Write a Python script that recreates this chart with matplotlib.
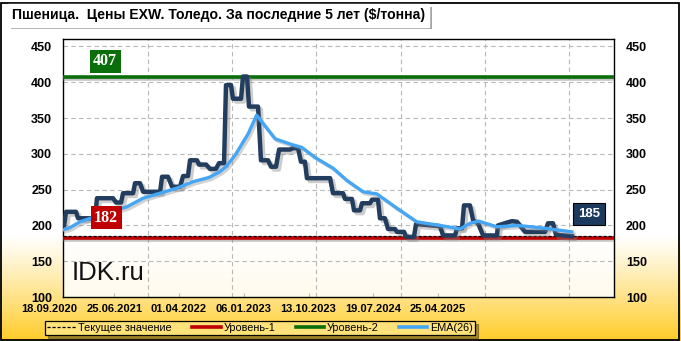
import matplotlib
matplotlib.use("Agg")
import matplotlib.pyplot as plt
import matplotlib.patheffects as pe
import matplotlib.transforms as mtransforms
import numpy as np

# неделя от 18.09.2020 и цена, $/т
weeks = [9.0, 10.2, 16.4, 17.6, 28.1, 29.3, 39.2, 41.1, 44.2, 45.4, 51.6, 52.8,
         55.9, 57.8, 68.3, 69.5, 73.2, 75.7, 80.6, 82.5, 85.5, 86.8, 91.1, 92.3,
         96.7, 99.1, 102.8, 104.7, 107.8, 109.0, 112.1, 113.3, 118.3, 119.5, 122.0,
         123.2, 128.8, 130.6, 135.0, 136.8, 139.9, 141.8, 148.6, 150.4, 153.5,
         155.3, 157.8, 159.0, 168.3, 173.3, 175.1, 181.3, 182.5, 186.8, 188.1,
         191.8, 193.0, 198.0, 199.2, 202.9, 204.1, 207.2, 209.1, 213.4, 214.6,
         219.0, 220.2, 225.1, 226.4, 241.2, 243.1, 250.5, 251.7, 254.8, 256.0,
         259.7, 261.7, 264.7, 267.8, 276.4, 277.0, 282.6, 285.7, 288.8, 293.7,
         306.1, 307.9, 311.0, 312.8, 322.7]
price = [200, 219, 219, 210, 210, 238, 238, 232, 232, 245, 245, 259,
         259, 247, 247, 268, 268, 254, 254, 269, 269, 291, 291, 285,
         285, 279, 279, 287, 287, 396, 396, 377, 377, 408, 408,
         366, 366, 291, 291, 282, 282, 306, 306, 308, 308,
         289, 289, 266, 266, 266, 245, 245, 237, 237, 221,
         221, 231, 231, 236, 236, 210, 210, 195, 195, 191,
         191, 184, 184, 202, 199, 186, 186, 196, 196, 228,
         228, 207, 203, 186, 186, 200, 204, 206, 205, 191,
         191, 203, 203, 187, 185]

ema_weeks = [8.6, 12.7, 18.8, 29.3, 47.8, 57.8, 68.3, 78.6, 88.6, 98.5, 105.2,
             109.0, 114.6, 122.7, 127.9, 139.3, 149.6, 155.8, 164.0, 175.1, 183.6,
             193.7, 202.2, 214.6, 226.9, 241.2, 253.6, 259.7, 265.1, 276.4,
             289.1, 306.1, 322.7]
ema = [194, 197, 205, 213, 226, 238, 245, 252, 261, 267, 275,
       282, 298, 328, 354, 321, 313, 309, 295, 280, 263,
       247, 244, 224, 205, 200, 195, 203, 206, 198,
       200, 196, 191]

current = 185
level1 = 182
level2 = 407
y_ticks = [100, 150, 200, 250, 300, 350, 400, 450]
date_labels = ["18.09.2020", "25.06.2021", "01.04.2022", "06.01.2023",
               "13.10.2023", "19.07.2024", "25.04.2025"]
label_weeks = [0, 40, 80, 120, 160, 200, 240]

W, H = 681, 341
fig = plt.figure(figsize=(W / 100, H / 100), dpi=100)

# фон с градиентом
bg = fig.add_axes([0, 0, 1, 1], zorder=-10)
t = np.linspace(0, 1, 300)
c_top = np.array([1.0, 1.0, 1.0])
c_bot = np.array([1.0, 0.80, 0.16])
k = np.clip((t - 0.69) / 0.31, 0, 1) ** 1.1
grad = c_top[None, :] * (1 - k[:, None]) + c_bot[None, :] * k[:, None]
bg.imshow(grad[:, None, :], aspect="auto", extent=[0, 1, 0, 1], origin="upper")
bg.set_xlim(0, 1)
bg.set_ylim(0, 1)
bg.axis("off")
bg.add_patch(plt.Rectangle((0.002, 0.002), 0.995, 0.99, fill=False, ec="black", lw=1.3))

ax = fig.add_axes([63.3 / W, 1 - 297 / H, (613.7 - 63.3) / W, (297 - 39.3) / H])
ax.set_facecolor((1, 1, 1, 0.85))
ax.set_xlim(8.5, 348.5)
ax.set_ylim(100, 460)

ax.set_yticks(y_ticks)
ax.set_yticklabels([])
ax.tick_params(axis="y", right=False, left=False)
ytrans = mtransforms.blended_transform_factory(fig.transFigure, ax.transData)
for v in y_ticks:
    ax.text(52 / W, v, str(v), transform=ytrans, ha="right", va="center_baseline", fontsize=9,
            fontweight="bold", family="Liberation Sans", clip_on=False)
    ax.text(626 / W, v, str(v), transform=ytrans, ha="left", va="center_baseline", fontsize=9,
            fontweight="bold", family="Liberation Sans", clip_on=False)
ax.set_xticks(label_weeks[1:])
ax.set_xticklabels([])
ax.tick_params(axis="x", direction="in", length=3, color="#bbbbbb")

for y in y_ticks[1:]:
    ax.axhline(y, color="#b8b8b8", lw=0.8, ls=(0, (4, 3)), zorder=1)
grid_step = 52.1
for i in range(1, 7):
    ax.axvline(8.5 + grid_step * i, color="#b8b8b8", lw=0.8, ls=(0, (4, 3)), zorder=1)

shadow = [pe.SimpleLineShadow(offset=(1.5, -1.5), shadow_color="gray", alpha=0.45), pe.Normal()]

ax.axhline(level2, color="#0a6e0a", lw=2.6, zorder=3, path_effects=shadow)
ax.axhline(level1, color="#c00000", lw=2.6, zorder=3, path_effects=shadow)
ax.axhline(current, color="black", lw=0.9, ls=(0, (2.5, 1.5)), zorder=4)

ax.plot(weeks, price, color="#223d5e", lw=3.2, zorder=5, solid_joinstyle="round",
        path_effects=[pe.SimpleLineShadow(offset=(2, -2), shadow_color="gray", alpha=0.4), pe.Normal()])
ax.plot(ema_weeks, ema, color="#45a6f5", lw=2.4, zorder=6,
        path_effects=[pe.SimpleLineShadow(offset=(1.5, -1.5), shadow_color="gray", alpha=0.35), pe.Normal()])

for sp in ax.spines.values():
    sp.set_color("black")
    sp.set_linewidth(1.0)

# подписи дат
trans = mtransforms.blended_transform_factory(ax.transData, fig.transFigure)
for wk, lab in zip(label_weeks, date_labels):
    ax.text(wk, 1 - 309 / H, lab, transform=trans, ha="center", va="center",
            fontsize=8, fontweight="bold", family=["Liberation Sans Narrow", "Liberation Sans"],
            clip_on=False)

# боксы уровней
box_kw = dict(boxstyle="square,pad=0.22", lw=0)
ax.text(34.3, 429, str(level2), ha="center", va="center", color="white", fontsize=11.5,
        fontweight="bold", family="Liberation Serif", zorder=8,
        bbox=dict(fc="#0a6e0a", **box_kw))
ax.text(35.0, 211, str(level1), ha="center", va="center", color="white", fontsize=11.5,
        fontweight="bold", family="Liberation Serif", zorder=8,
        bbox=dict(fc="#c00000", **box_kw))
ax.text(333.2, 216, str(current), ha="center", va="center", color="white", fontsize=9.5,
        fontweight="bold", family="Liberation Sans", zorder=8,
        bbox=dict(fc="#1c3a5e", ec="black", lw=0.8, boxstyle="square,pad=0.38"))

ax.text(0.016, 0.045, "IDK.ru", transform=ax.transAxes, fontsize=18.5,
        family="Liberation Sans", color="#111111", va="bottom", ha="left", zorder=8)

# заголовок
fig.text(12 / W, 1 - 15.5 / H, "Пшеница.  Цены EXW. Толедо. За последние 5 лет ($/тонна)",
         fontsize=10.1, fontweight="bold", family="Liberation Sans", va="center", ha="left",
         bbox=dict(fc="white", ec="white", boxstyle="square,pad=0.3",
                   path_effects=[pe.withSimplePatchShadow(offset=(2, -2), alpha=0.5)]))

handles = [
    plt.Line2D([], [], color="black", lw=0.9, ls=(0, (2.5, 1.5))),
    plt.Line2D([], [], color="#c00000", lw=2.6),
    plt.Line2D([], [], color="#0a6e0a", lw=2.6),
    plt.Line2D([], [], color="#45a6f5", lw=2.6),
]
labels = ["Текущее значение", "Уровень-1", "Уровень-2", "EMA(26)"]
leg = fig.legend(handles, labels, loc="center", bbox_to_anchor=(260 / W, 1 - 328 / H), ncol=4,
                 frameon=True, fancybox=False, shadow=True, handlelength=2.6,
                 handletextpad=0.25, columnspacing=1.9, borderpad=0.2, borderaxespad=0,
                 prop={"family": "Liberation Sans", "size": 7.8})
leg.get_frame().set_edgecolor("black")
leg.get_frame().set_facecolor("#ffe27a")
leg.get_frame().set_linewidth(0.9)

fig.savefig("out.png", dpi=100)
